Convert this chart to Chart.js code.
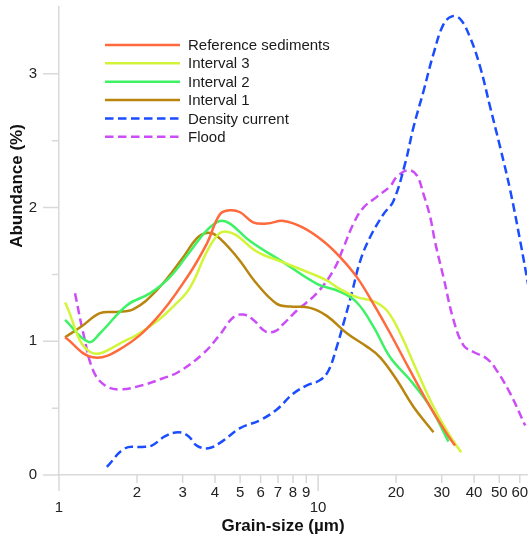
<!DOCTYPE html>
<html>
<head>
<meta charset="utf-8">
<script src="https://cdn.jsdelivr.net/npm/chart.js@4.4.1/dist/chart.umd.min.js"></script>
<style>
   body { margin: 0; background: #fff; }
   #chart-box { width: 530px; height: 536px; }
</style>
</head>
<body>
<div id="chart-box"><canvas id="grainChart" width="530" height="536"></canvas></div>
<script>
// series names
const seriesNames = ["Reference sediments", "Interval 3", "Interval 2", "Interval 1", "Density current", "Flood"];

// grain size (µm) and abundance (%)
const refX = [1.055, 1.35, 1.75, 2.35, 3.15, 3.72, 4.18, 4.57, 5.0, 5.61, 6.34, 7.35, 8.75, 10.45, 12.16, 14.11, 16.35, 18.97, 22.66, 27.07, 31.85, 33.8];
const refY = [1.03, 0.88, 0.95, 1.16, 1.49, 1.73, 1.95, 1.98, 1.965, 1.89, 1.88, 1.90, 1.85, 1.75, 1.63, 1.48, 1.28, 1.06, 0.78, 0.51, 0.29, 0.22];

const int3X = [1.055, 1.32, 1.83, 2.35, 2.76, 3.2, 3.72, 4.12, 4.44, 4.86, 5.8, 7.35, 9.31, 10.8, 12.16, 14.11, 16.35, 18.42, 20.73, 24.05, 27.88, 32.33, 35.66];
const int3Y = [1.29, 0.92, 1.01, 1.14, 1.26, 1.40, 1.67, 1.80, 1.82, 1.79, 1.67, 1.59, 1.51, 1.455, 1.39, 1.33, 1.30, 1.23, 1.06, 0.78, 0.51, 0.29, 0.17];

const int2X = [1.055, 1.30, 1.44, 1.83, 2.25, 2.68, 3.2, 3.72, 4.18, 4.57, 5.46, 7.35, 9.89, 12.16, 14.11, 16.35, 18.97, 22.66, 27.07, 31.85];
const int2Y = [1.16, 0.995, 1.06, 1.27, 1.36, 1.48, 1.67, 1.83, 1.90, 1.88, 1.75, 1.59, 1.43, 1.37, 1.29, 1.11, 0.88, 0.71, 0.51, 0.25];

const int1X = [1.055, 1.22, 1.44, 1.67, 1.94, 2.38, 3.02, 3.4, 3.72, 4.06, 4.86, 5.8, 6.93, 7.8, 9.31, 10.8, 12.91, 15.42, 17.35, 20.13, 23.33, 27.88];
const int1Y = [1.03, 1.11, 1.21, 1.22, 1.24, 1.38, 1.63, 1.77, 1.81, 1.79, 1.63, 1.43, 1.28, 1.26, 1.25, 1.19, 1.06, 0.96, 0.88, 0.71, 0.51, 0.32];

const densityX = [1.53, 1.8, 2.09, 2.28, 2.57, 2.89, 3.16, 3.4, 3.77, 4.18, 5.0, 5.97, 6.93, 8.03, 9.05, 10.18, 10.96, 11.81, 12.52, 13.49, 14.53, 15.88, 17.87, 19.54, 21.67, 23.33, 25.51, 27.88, 30.46, 32.83, 35.35, 38.64, 42.23, 46.15, 50.44, 55.12, 60.25, 64.7];
const densityY = [0.06, 0.20, 0.21, 0.22, 0.29, 0.32, 0.29, 0.22, 0.20, 0.24, 0.35, 0.41, 0.49, 0.61, 0.67, 0.71, 0.78, 0.96, 1.13, 1.36, 1.60, 1.78, 1.95, 2.05, 2.33, 2.60, 2.87, 3.15, 3.37, 3.43, 3.41, 3.27, 3.05, 2.75, 2.45, 2.13, 1.75, 1.42];

const floodX = [1.153, 1.241, 1.356, 1.505, 1.72, 2.086, 2.49, 2.89, 3.61, 4.18, 4.71, 5.15, 5.63, 6.24, 6.82, 7.35, 8.28, 9.89, 11.46, 12.52, 13.69, 14.96, 16.85, 18.97, 20.13, 22.32, 24.05, 25.51, 27.07, 28.29, 30.46, 33.3, 36.39, 39.78, 44.81, 48.97, 55.12, 62.98];
const floodY = [1.36, 1.06, 0.78, 0.67, 0.64, 0.67, 0.72, 0.77, 0.91, 1.05, 1.18, 1.20, 1.16, 1.075, 1.075, 1.13, 1.23, 1.36, 1.53, 1.70, 1.88, 2.00, 2.08, 2.16, 2.23, 2.28, 2.24, 2.10, 1.93, 1.74, 1.48, 1.16, 0.97, 0.92, 0.87, 0.78, 0.61, 0.37];

// axis ticks
const xTickValues = [1, 2, 3, 4, 5, 6, 7, 8, 9, 10, 20, 30, 40, 50, 60];
const yTickLabels = [0, 1, 2, 3];

const fontFamily = '"Liberation Sans", Arial, sans-serif';
const axisColor = "#d9d9d9";
const dash = [8.5, 4.5];

function toPoints(xs, ys) {
   return xs.map((x, i) => ({ x: x, y: ys[i] }));
}

const seriesStyle = [
   { color: "#ff6a3d", dashed: false },
   { color: "#d2f53a", dashed: false },
   { color: "#3ef266", dashed: false },
   { color: "#b8860f", dashed: false },
   { color: "#1a4dff", dashed: true },
   { color: "#cc4cf7", dashed: true }
];
const seriesData = [
   toPoints(refX, refY),
   toPoints(int3X, int3Y),
   toPoints(int2X, int2Y),
   toPoints(int1X, int1Y),
   toPoints(densityX, densityY),
   toPoints(floodX, floodY)
];

function noPadding(scale) {
   scale.paddingLeft = 0;
   scale.paddingRight = 0;
   scale.paddingTop = 0;
   scale.paddingBottom = 0;
}

// tick marks, legend and axis titles
const decor = {
   id: "decor",
   afterDraw(chart) {
      const ctx = chart.ctx;
      const xs = chart.scales.x;
      const ys = chart.scales.y;
      const area = chart.chartArea;
      ctx.save();
      ctx.strokeStyle = axisColor;
      ctx.lineWidth = 1.5;
      ctx.beginPath();
      xTickValues.forEach(v => {
         const px = xs.getPixelForValue(v);
         const len = (v === 1 || v === 10) ? 16 : 8;
         ctx.moveTo(px, area.bottom);
         ctx.lineTo(px, area.bottom + len);
      });
      for (let v = 0; v <= 3; v += 0.5) {
         const py = ys.getPixelForValue(v);
         const len = yTickLabels.includes(v) ? 16 : 7;
         ctx.moveTo(area.left, py);
         ctx.lineTo(area.left - len, py);
      }
      ctx.stroke();

      // legend
      ctx.font = "15px " + fontFamily;
      ctx.textAlign = "left";
      ctx.textBaseline = "middle";
      seriesNames.forEach((name, i) => {
         const y = 45 + i * 18.35;
         ctx.strokeStyle = seriesStyle[i].color;
         ctx.lineWidth = 2.5;
         ctx.setLineDash(seriesStyle[i].dashed ? dash : []);
         ctx.beginPath();
         ctx.moveTo(105, y);
         ctx.lineTo(180, y);
         ctx.stroke();
         ctx.fillStyle = "#1a1a1a";
         ctx.fillText(name, 188, y + 1);
      });
      ctx.setLineDash([]);

      // axis titles
      ctx.fillStyle = "#111";
      ctx.font = "bold 17px " + fontFamily;
      ctx.textAlign = "center";
      ctx.fillText("Grain-size (µm)", 283, 526);
      ctx.translate(17, 186);
      ctx.rotate(-Math.PI / 2);
      ctx.fillText("Abundance (%)", 0, 0);
      ctx.restore();
   }
};

const ctx = document.getElementById("grainChart").getContext("2d");
new Chart(ctx, {
   type: "line",
   data: {
      datasets: seriesNames.map((name, i) => ({
         label: name,
         data: seriesData[i],
         borderColor: seriesStyle[i].color,
         backgroundColor: seriesStyle[i].color,
         borderDash: seriesStyle[i].dashed ? dash : [],
         borderWidth: 2.5,
         pointRadius: 0,
         fill: false,
         tension: 0.4
      }))
   },
   options: {
      responsive: false,
      animation: false,
      layout: { padding: { top: 7, right: 3, left: 0, bottom: 0 } },
      plugins: {
         legend: { display: false },
         tooltip: { enabled: false }
      },
      scales: {
         x: {
            type: "logarithmic",
            min: 1,
            max: 64,
            afterFit(scale) { scale.height = 61; noPadding(scale); },
            afterBuildTicks(scale) { scale.ticks = xTickValues.map(v => ({ value: v })); },
            grid: { display: true, drawOnChartArea: false, drawTicks: false },
            border: { display: true, color: axisColor, width: 1.5 },
            ticks: {
               autoSkip: false,
               maxRotation: 0,
               padding: 11,
               color: "#222",
               font: { size: 15, family: fontFamily, lineHeight: 0.95 },
               callback: v => (v === 1 || v === 10) ? ["", String(v)] : String(v)
            }
         },
         y: {
            min: 0,
            max: 3.5,
            afterFit(scale) { scale.width = 59; noPadding(scale); },
            grid: { display: true, drawOnChartArea: false, drawTicks: false },
            border: { display: true, color: axisColor, width: 1.5 },
            ticks: {
               stepSize: 0.5,
               padding: 22,
               color: "#222",
               font: { size: 15, family: fontFamily },
               callback: v => yTickLabels.includes(v) ? String(v) : ""
            }
         }
      }
   },
   plugins: [decor]
});
</script>
</body>
</html>
